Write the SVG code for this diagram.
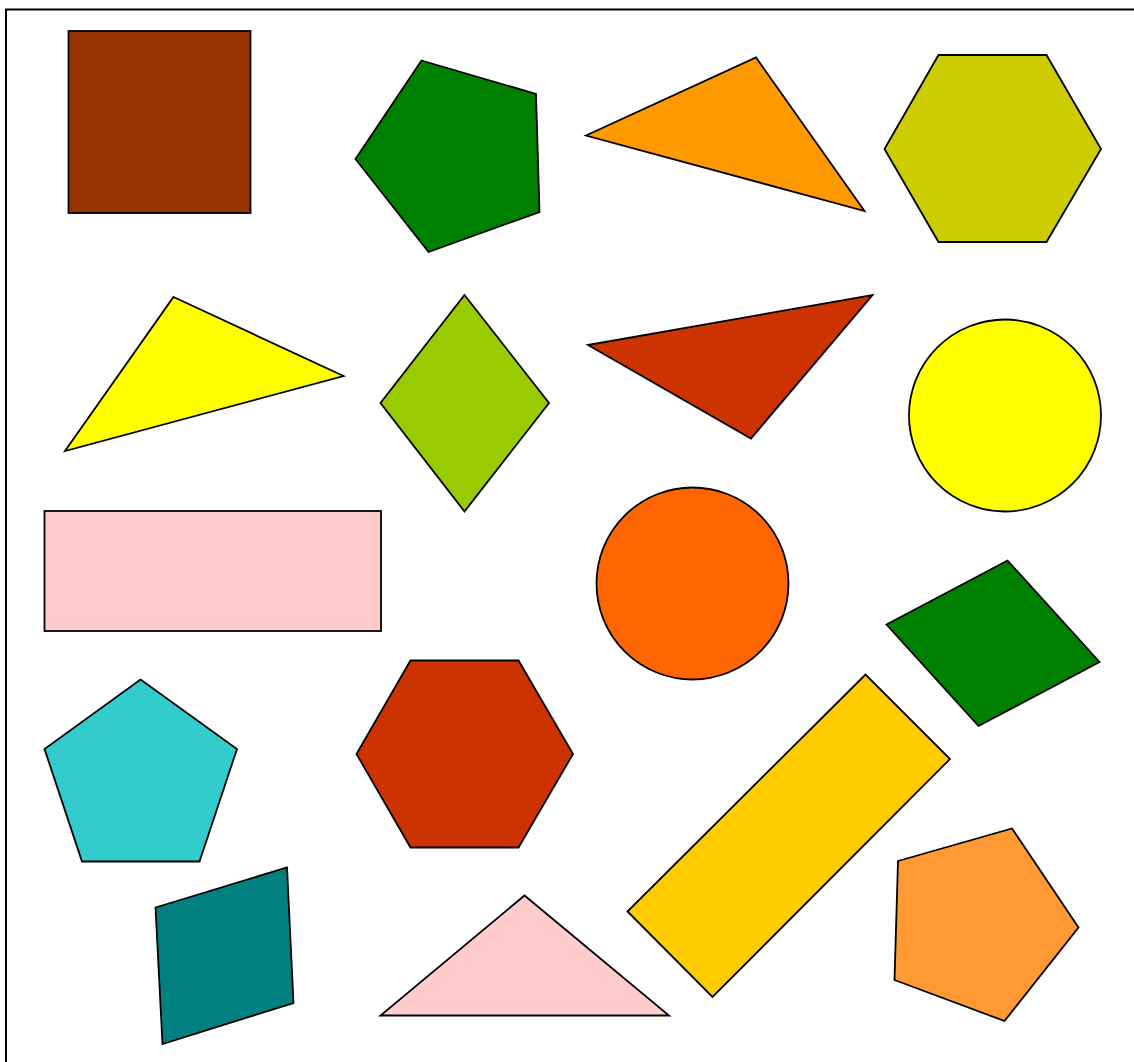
<svg xmlns="http://www.w3.org/2000/svg" width="1134" height="1062" viewBox="0 0 1134 1062">
<style>
.s{stroke:#000;stroke-width:1.8;stroke-linejoin:miter}
</style>
<rect x="0" y="0" width="1134" height="1062" fill="#fff"/>
<rect x="6" y="9.5" width="1140" height="1070" fill="none" stroke="#000" stroke-width="2"/>
<rect class="s" x="68.5" y="31" width="182" height="182" fill="#993300"/>
<polygon class="s" points="421.5,60.5 536,94 539.5,212 428.5,252 355.5,159" fill="#008000"/>
<polygon class="s" points="586,135.5 756,57.5 864.5,211" fill="#ff9900"/>
<polygon class="s" points="938.5,55 1046.5,55 1101,149 1046.5,242 938.5,242 884.5,149" fill="#cccc00"/>
<polygon class="s" points="173.5,297 343.5,376 65,451" fill="#ffff00"/>
<polygon class="s" points="464.5,295 549,403 464.5,511.5 380.5,403" fill="#99cc00"/>
<polygon class="s" points="588,345 872.5,295 751,438.5" fill="#cc3300"/>
<circle class="s" cx="1005" cy="415.5" r="96" fill="#ffff00"/>
<rect class="s" x="44.5" y="511" width="336.5" height="120" fill="#ffcccc"/>
<circle class="s" cx="692.5" cy="583.5" r="96" fill="#ff6600"/>
<polygon class="s" points="886.5,624.5 1007.5,560.5 1099.5,662 978.5,726" fill="#008000"/>
<polygon class="s" points="140.5,679.5 237,749 199.5,861.5 82,861.5 44.5,749" fill="#33cccc"/>
<polygon class="s" points="410.5,660.5 518.5,660.5 573,754 518.5,847.5 410.5,847.5 356.5,754" fill="#cc3300"/>
<polygon class="s" points="627.5,911.5 865.5,674.5 950,759 712.5,997" fill="#ffcc00"/>
<polygon class="s" points="898,861 1012,828.5 1078.5,927.5 1004.5,1021 894.5,980" fill="#ff9933"/>
<polygon class="s" points="155.5,907.5 287,867.5 293.5,1003 162.5,1044" fill="#008080"/>
<polygon class="s" points="524.5,895.5 669,1015.5 380.5,1015.5" fill="#ffcccc"/>
</svg>
